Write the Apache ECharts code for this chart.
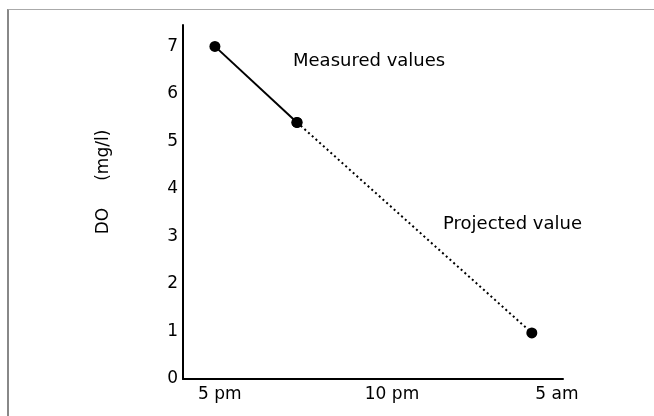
<!DOCTYPE html>
<html>
<head>
<meta charset="utf-8">
<script src="https://cdn.jsdelivr.net/npm/echarts@6/dist/echarts.min.js"></script>
<style>
html,body{margin:0;padding:0;background:#fff;}
#frame{position:absolute;left:7px;top:9px;width:647px;height:407px;border-top:1px solid #aaa;border-left:2px solid #888;}
#chart{position:absolute;left:0;top:0;width:654px;height:416px;}
</style>
</head>
<body>
<div id="frame"></div>
<div id="chart"></div>
<script>
// x is a schematic position along the time axis (axis spans 0..10)
var measuredX = [0.84, 3.0];
var measuredY = [7.0, 5.4];
var projectedX = [3.0, 9.18];
var projectedY = [5.4, 0.97];
var xTickPos = [0.97, 5.5, 9.84];
var xTickLabels = ['5 pm', '10 pm', '5 am'];
var yTicks = [0, 1, 2, 3, 4, 5, 6, 7];

var font = '"DejaVu Sans", sans-serif';

function pairs(xs, ys){
	var out = [];
	for(var i=0;i<xs.length;i++){
		out.push([xs[i], ys[i]]);
	}
	return out;
}

var chart = echarts.init(document.getElementById('chart'));
var option = {
	animation: false,
	grid: {
		left: 183,
		right: 91,
		top: 25,
		bottom: 37
	},
	xAxis: {
		type: 'value',
		min: 0,
		max: 10,
		axisLine: {show: true, onZero: false, lineStyle: {color: '#000', width: 2}},
		axisTick: {show: false},
		splitLine: {show: false},
		axisLabel: {
			customValues: xTickPos,
			margin: 7,
			color: '#000',
			fontSize: 17,
			fontFamily: font,
			formatter: function(v){
				var idx = xTickPos.indexOf(v);
				return idx >= 0 ? xTickLabels[idx] : '';
			}
		}
	},
	yAxis: {
		type: 'value',
		min: 0,
		max: 7.45,
		axisLine: {show: true, onZero: false, lineStyle: {color: '#000', width: 2}},
		axisTick: {show: false},
		splitLine: {show: false},
		axisLabel: {
			customValues: yTicks,
			margin: 5,
			color: '#000',
			fontSize: 17,
			fontFamily: font
		}
	},
	graphic: [
		{
			type: 'text',
			left: 293,
			top: 52,
			style: {text: 'Measured values', fill: '#000', font: '18px ' + font}
		},
		{
			type: 'text',
			left: 443,
			top: 215,
			style: {text: 'Projected value', fill: '#000', font: '18px ' + font}
		},
		{
			type: 'text',
			x: 104,
			y: 182,
			rotation: Math.PI / 2,
			style: {text: 'DO     (mg/l)', fill: '#000', font: '17px ' + font, align: 'center', verticalAlign: 'middle'}
		}
	],
	series: [
		{
			name: 'Measured',
			type: 'line',
			data: pairs(measuredX, measuredY),
			symbol: 'circle',
			symbolSize: 11,
			itemStyle: {color: '#000'},
			lineStyle: {color: '#000', width: 2}
		},
		{
			name: 'Projected',
			type: 'line',
			data: pairs(projectedX, projectedY),
			symbol: 'circle',
			symbolSize: 11,
			itemStyle: {color: '#000'},
			lineStyle: {color: '#000', width: 2, type: [2, 3]}
		}
	]
};
chart.setOption(option);
</script>
</body>
</html>
